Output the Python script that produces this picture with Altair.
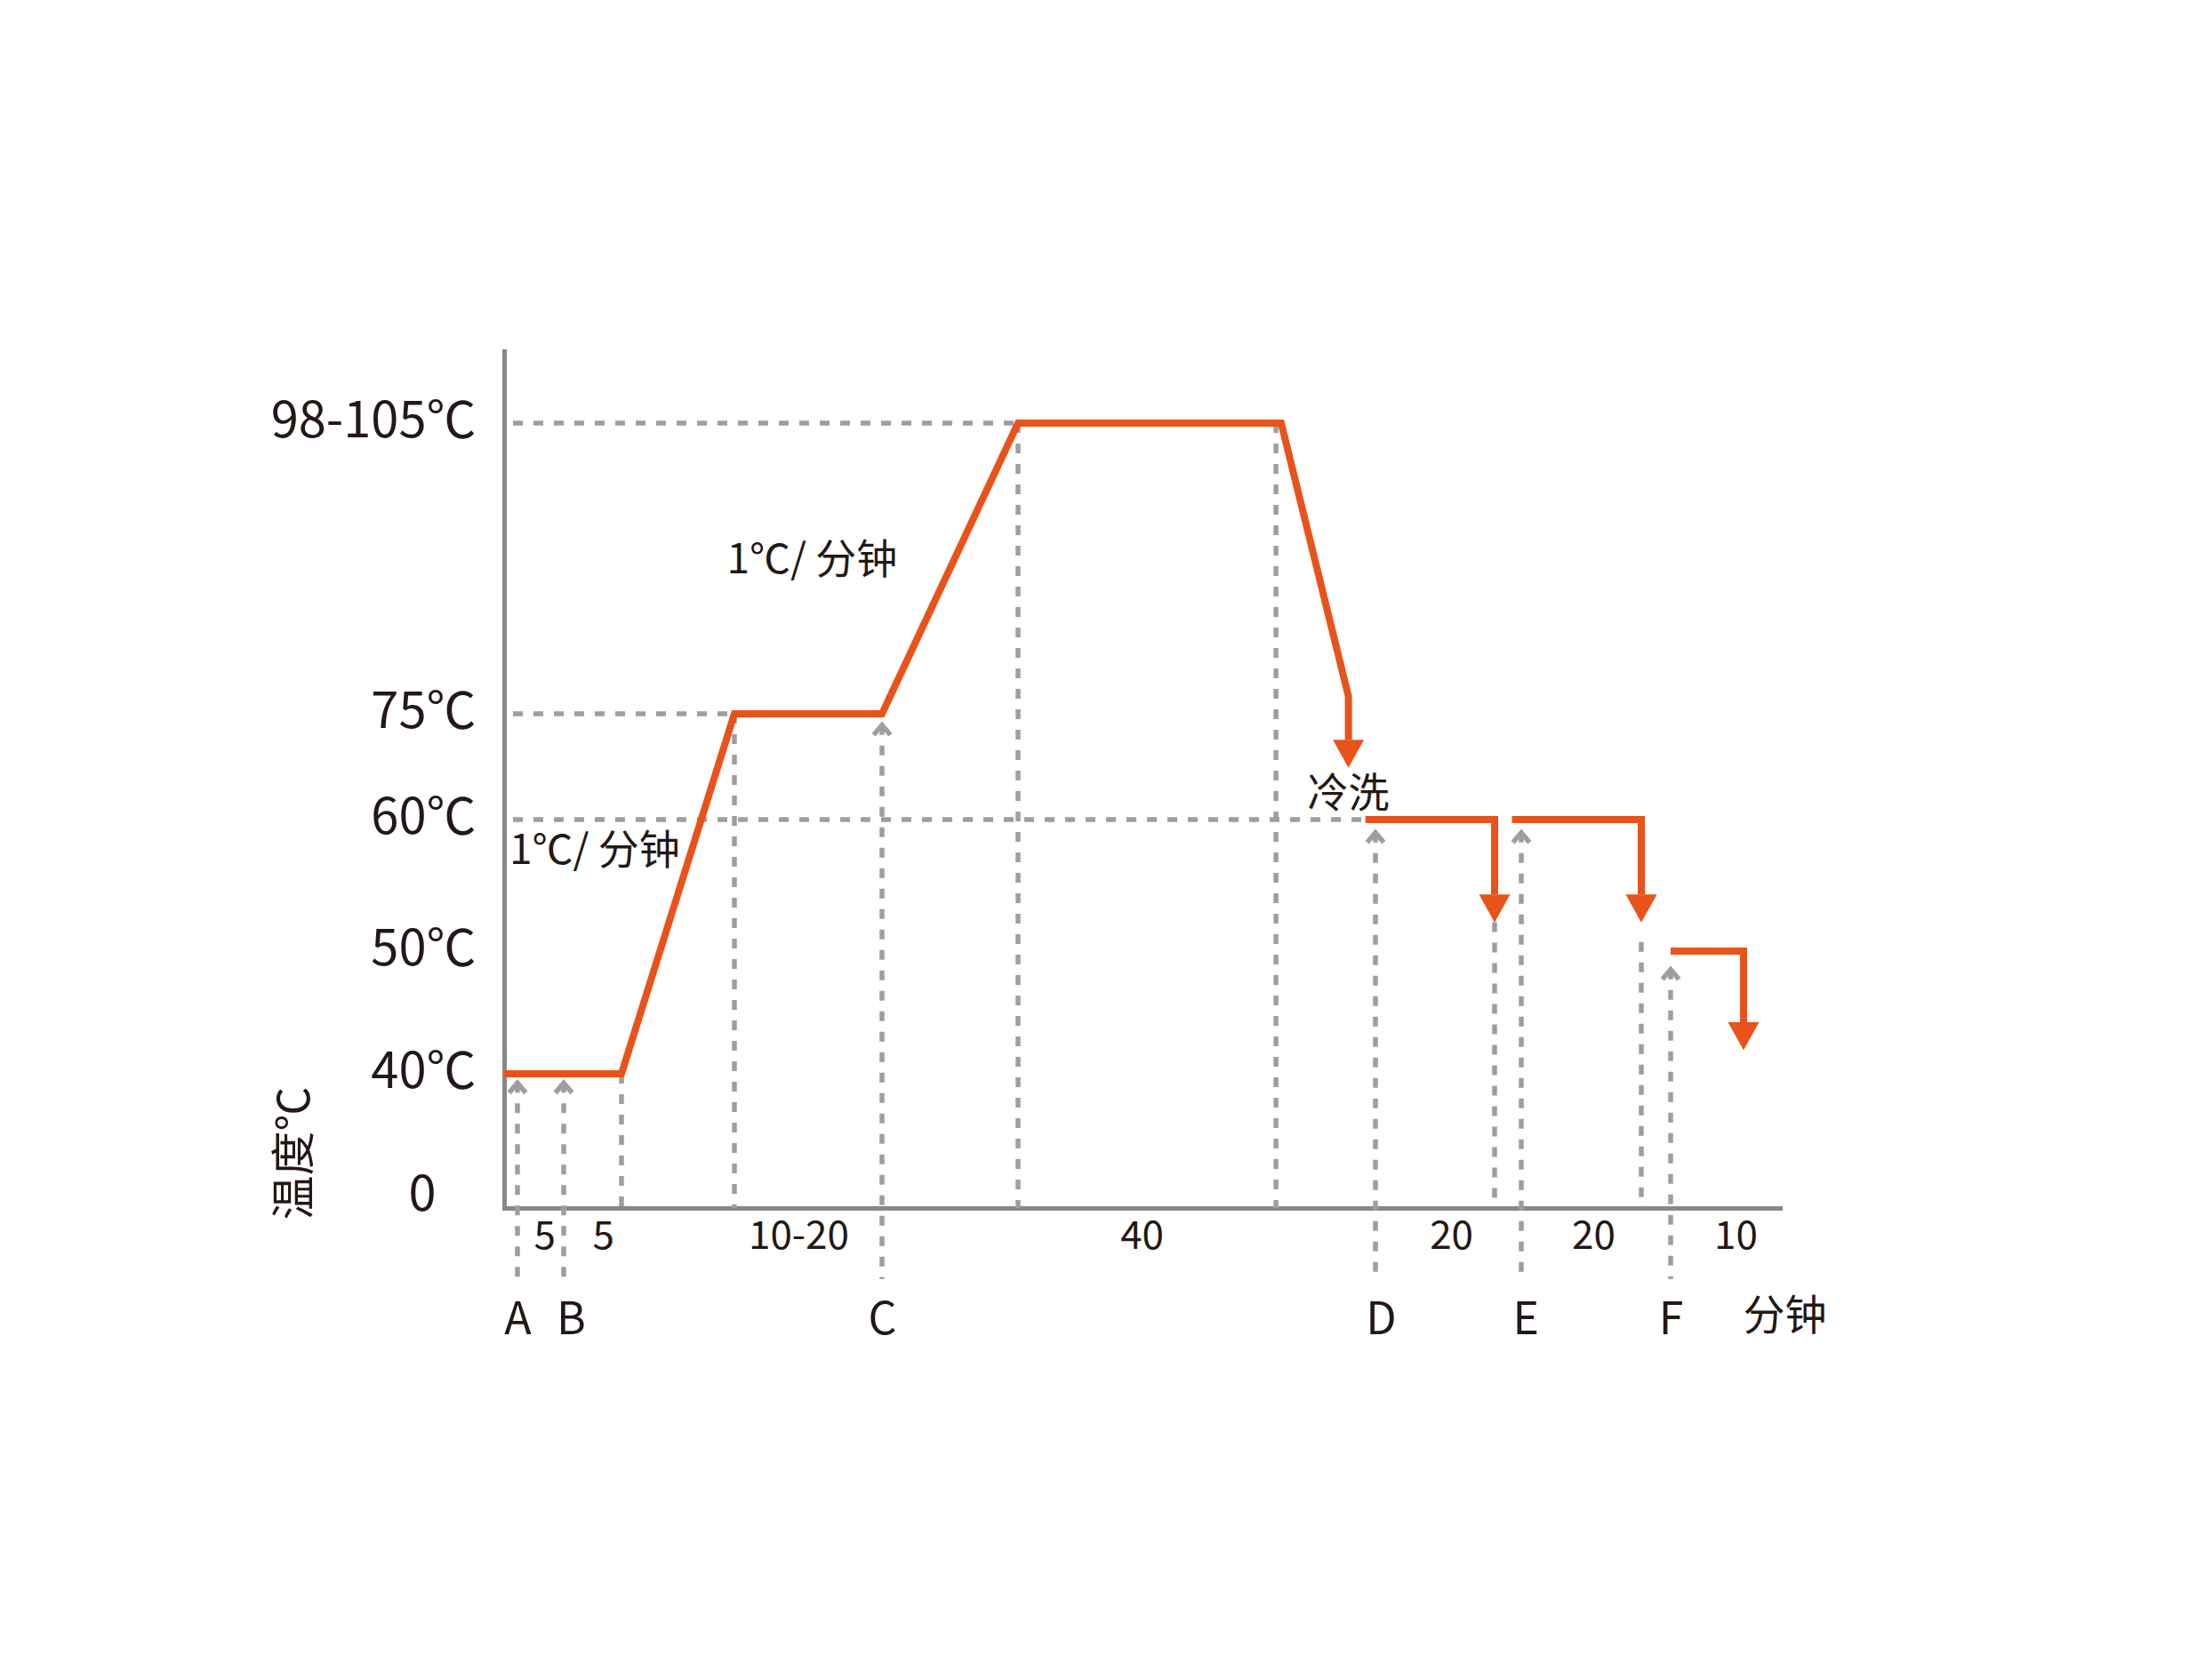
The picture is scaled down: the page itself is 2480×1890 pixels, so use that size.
import altair as alt
import pandas as pd

# ---------------- data (schematic minutes, temperature °C) ----------------
HEAT_T = [-1.5, 10, 45, 60, 85, 125, 135.7, 135.7]
HEAT_TEMP = [40, 40, 75, 75, 101.5, 101.5, 76.6, 71.3]
WASH_D_T = [138.4, 160, 160]
WASH_D_TEMP = [60, 60, 54.3]
WASH_E_T = [161.3, 182, 182]
WASH_E_TEMP = [60, 60, 54.3]
WASH_F_T = [184, 194, 194]
WASH_F_TEMP = [50, 50, 44.2]

GUIDE_H_FROM = [-0.5, -0.5, -0.5]
GUIDE_H_TO = [85, 45, 137.8]
GUIDE_H_TEMP = [101.5, 75, 60]

GUIDE_V_T = [10, 45, 85, 124.2, 160, 182]
GUIDE_V_TOP = [40, 75, 101.5, 101.5, 52.2, 50.7]
AXIS_TEMP = -3.77

MARK_T = [0, 5, 60, 140, 162, 184]
MARK_TOP = [37.0, 37.0, 73.4, 59.0, 59.0, 48.5]
MARK_BOTTOM = -27

Y_TICKS = [0, 40, 50, 60, 75, 101.5]
Y_LABELS = ["0", "40℃", "50℃", "60℃", "75℃", "98-105℃"]
DUR_T = [2.9, 8.4, 51.5, 103.8, 152.7, 174.0, 192.9]
DUR_LABELS = ["5", "5", "10-20", "40", "20", "20", "10"]
LET_T = [0, 5.6, 60, 140.9, 162.7, 184]
LET_LABELS = ["A", "B", "C", "D", "E", "F"]

NOTE_C_T = [52.9, 135.7]
NOTE_C_TEMP = [88.9, 63.5]
NOTE_C_TEXT = ["1℃/ 分钟", "冷洗"]
NOTE_L_T = [-0.9]
NOTE_L_TEMP = [57.6]
NOTE_L_TEXT = ["1℃/ 分钟"]

# ---------------- styling / layout ----------------
ORANGE = "#E8531B"
GRAY = "#9E9E9E"
AXIS_C = "#878787"
TEXT_C = "#231815"
FONT = "Noto Sans CJK SC"

# piecewise schematic scales (the original diagram is not drawn to scale)
X_T = [-1.5, 0, 5, 10, 45, 60, 85, 125, 140, 160, 162, 182, 184, 194, 199]
X_PX = [0, 15, 67, 132, 259, 425, 578, 874, 980, 1114, 1144, 1279, 1312, 1394, 1435]
Y_T = [-3.77, 0, 40, 50, 60, 75, 101.5, 108.06]
Y_PX = [964, 951, 813, 675, 527, 408, 81, 0]

x_scale = alt.Scale(domain=X_T, range=X_PX, zero=False, nice=False)
y_scale = alt.Scale(domain=Y_T, range=Y_PX, zero=False, nice=False)


def label_expr(values, labels):
    expr = "''"
    for v, lab in reversed(list(zip(values, labels))):
        expr = f"abs(datum.value - ({v})) < 0.01 ? '{lab}' : ({expr})"
    return expr


x_axis_dur = alt.Axis(
    orient="bottom",
    values=DUR_T, labelExpr=label_expr(DUR_T, DUR_LABELS),
    domain=True, domainColor=AXIS_C, domainWidth=5, domainCap="square",
    ticks=False, tickSize=0, grid=False, title=None,
    labelFont=FONT, labelFontSize=44, labelColor=TEXT_C,
    labelPadding=32, labelBaseline="middle", labelAngle=0,
    labelOverlap=False, labelFlush=False, labelLimit=0,
)
x_axis_let = alt.Axis(
    orient="bottom",
    values=LET_T, labelExpr=label_expr(LET_T, LET_LABELS),
    domain=False, ticks=False, tickSize=0, grid=False,
    labelFont=FONT, labelFontSize=50, labelColor=TEXT_C,
    labelPadding=126, labelBaseline="middle", labelAngle=0,
    labelOverlap=False, labelFlush=False, labelLimit=0,
    title="分钟", titleX=1440, titleY=122, titleFont=FONT, titleFontSize=47,
    titleFontWeight="normal", titleColor=TEXT_C, titleAlign="center",
    titleBaseline="middle", titleAngle=0,
)
y_axis = alt.Axis(
    orient="left",
    values=Y_TICKS, labelExpr=label_expr(Y_TICKS, Y_LABELS),
    domain=True, domainColor=AXIS_C, domainWidth=5, domainCap="square",
    ticks=False, tickSize=0, grid=False,
    labelFont=FONT, labelFontSize=56, labelColor=TEXT_C,
    labelPadding={"condition": {"test": "datum.value == 0", "value": 77}, "value": 32},
    labelOffset=-2, labelBaseline="middle", labelAlign="right",
    labelOverlap=False, labelFlush=False, labelLimit=0,
    title="温度℃", titleX=-235, titleY=902, titleAngle=270,
    titleFont=FONT, titleFontSize=50, titleFontWeight="normal", titleColor=TEXT_C,
    titleAlign="center", titleBaseline="middle",
)

# ---------------- tables ----------------
rows = []
for seg, ts, temps in [("heat", HEAT_T, HEAT_TEMP), ("D", WASH_D_T, WASH_D_TEMP),
                       ("E", WASH_E_T, WASH_E_TEMP), ("F", WASH_F_T, WASH_F_TEMP)]:
    for i, (t, v) in enumerate(zip(ts, temps)):
        rows.append({"seg": seg, "i": i, "t": t, "temp": v})
orange_df = pd.DataFrame(rows)
arrow_df = orange_df.groupby("seg").tail(1)

h_df = pd.DataFrame({"t0": GUIDE_H_FROM, "t1": GUIDE_H_TO, "temp": GUIDE_H_TEMP})
v_df = pd.DataFrame({"t": GUIDE_V_T, "top": GUIDE_V_TOP, "bottom": [AXIS_TEMP] * len(GUIDE_V_T)})
m_df = pd.DataFrame({"t": MARK_T, "top": MARK_TOP, "bottom": [MARK_BOTTOM] * len(MARK_T)})
note_c = pd.DataFrame({"t": NOTE_C_T, "temp": NOTE_C_TEMP, "txt": NOTE_C_TEXT})
note_l = pd.DataFrame({"t": NOTE_L_T, "temp": NOTE_L_TEMP, "txt": NOTE_L_TEXT})

dash = dict(color=GRAY, strokeWidth=5.5, strokeDash=[11, 12], strokeCap="butt")

h_layer = alt.Chart(h_df).mark_rule(**dash).encode(
    x=alt.X("t0:Q", scale=x_scale, axis=x_axis_dur),
    x2="t1:Q",
    y=alt.Y("temp:Q", scale=y_scale, axis=y_axis),
)
v_layer = alt.Chart(v_df).mark_rule(**dash).encode(
    x=alt.X("t:Q", scale=x_scale, axis=x_axis_let),
    y=alt.Y("top:Q", scale=y_scale, axis=None),
    y2="bottom:Q",
)
m_layer = alt.Chart(m_df).mark_rule(**dash).encode(
    x=alt.X("t:Q", scale=x_scale, axis=None),
    y=alt.Y("top:Q", scale=y_scale, axis=None),
    y2="bottom:Q",
)
chevron = alt.Chart(m_df).mark_point(
    shape="M-0.85,1L0,0L0.85,1", filled=False, stroke=GRAY, strokeWidth=5.5,
    size=484, opacity=1, strokeJoin="miter",
).encode(
    x=alt.X("t:Q", scale=x_scale, axis=None),
    y=alt.Y("top:Q", scale=y_scale, axis=None),
)
orange = alt.Chart(orange_df).mark_line(
    color=ORANGE, strokeWidth=8, strokeJoin="miter", strokeCap="butt",
).encode(
    x=alt.X("t:Q", scale=x_scale, axis=None),
    y=alt.Y("temp:Q", scale=y_scale, axis=None),
    detail="seg:N",
    order=alt.Order("i:Q"),
)
heads = alt.Chart(arrow_df).mark_point(
    shape="M-1,0L1,0L0,1.8Z", filled=True, fill=ORANGE, strokeWidth=0,
    size=1225, opacity=1,
).encode(
    x=alt.X("t:Q", scale=x_scale, axis=None),
    y=alt.Y("temp:Q", scale=y_scale, axis=None),
)
txt_c = alt.Chart(note_c).mark_text(
    font=FONT, fontSize=46, color=TEXT_C, align="center", baseline="middle",
).encode(
    x=alt.X("t:Q", scale=x_scale, axis=None),
    y=alt.Y("temp:Q", scale=y_scale, axis=None),
    text="txt:N",
)
txt_l = alt.Chart(note_l).mark_text(
    font=FONT, fontSize=46, color=TEXT_C, align="left", baseline="middle",
).encode(
    x=alt.X("t:Q", scale=x_scale, axis=None),
    y=alt.Y("temp:Q", scale=y_scale, axis=None),
    text="txt:N",
)

chart = alt.layer(
    h_layer, v_layer, m_layer, chevron, orange, heads, txt_c, txt_l
).resolve_axis(x="independent", y="independent").properties(
    width=1435, height=964,
    padding={"left": 559, "top": 387, "right": 450, "bottom": 500},
    autosize=alt.AutoSizeParams(type="none"),
    background="white",
).configure_view(stroke=None)

chart.save("out.html", embed_options={"renderer": "svg", "actions": False})
